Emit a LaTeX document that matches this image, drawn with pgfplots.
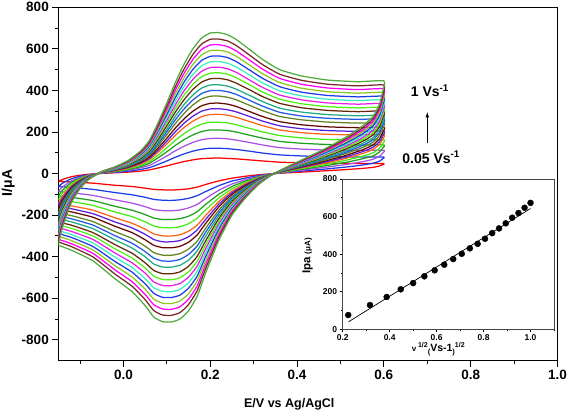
\documentclass[border=0pt]{standalone}
\usepackage{pgfplots}
\pgfplotsset{compat=1.18}
\usepackage{pgfplotstable}
\usepackage{fontspec}
\setmainfont{Liberation Sans}

\definecolor{k1}{RGB}{255,0,0}
\definecolor{k2}{RGB}{30,60,230}
\definecolor{k3}{RGB}{170,80,230}
\definecolor{k4}{RGB}{30,160,30}
\definecolor{k5}{RGB}{70,235,20}
\definecolor{k6}{RGB}{255,100,20}
\definecolor{k7}{RGB}{90,30,220}
\definecolor{k8}{RGB}{100,10,0}
\definecolor{k9}{RGB}{100,130,30}
\definecolor{k10}{RGB}{30,90,230}
\definecolor{k11}{RGB}{30,170,130}
\definecolor{k12}{RGB}{100,40,10}
\definecolor{k13}{RGB}{80,240,20}
\definecolor{k14}{RGB}{230,30,230}
\definecolor{k15}{RGB}{60,240,190}
\definecolor{k16}{RGB}{30,60,230}
\definecolor{k17}{RGB}{140,200,30}
\definecolor{k18}{RGB}{255,0,255}
\definecolor{k19}{RGB}{120,40,40}
\definecolor{k20}{RGB}{80,170,60}

\pgfplotstableread{
E c1 c2 c3 c4 c5 c6 c7 c8 c9 c10 c11 c12 c13 c14 c15 c16 c17 c18 c19 c20
-0.15 -38 -62 -86 -107 -126 -145 -159 -173 -190 -204 -217 -233 -247 -260 -274 -288 -302 -316 -329 -345
-0.14 -28 -46 -64 -79 -93 -107 -117 -128 -140 -150 -161 -172 -182 -193 -203 -213 -223 -233 -244 -255
-0.12 -15 -25 -35 -43 -51 -59 -64 -70 -77 -83 -88 -95 -100 -106 -111 -117 -123 -128 -134 -140
-0.10 -8 -13 -18 -22 -26 -30 -33 -36 -40 -42 -45 -49 -51 -54 -57 -60 -63 -66 -69 -72
-0.08 -3 -5 -7 -9 -10 -12 -13 -14 -15 -17 -18 -19 -20 -21 -22 -23 -25 -26 -27 -28
-0.05 1 2 3 3 4 4 5 5 6 6 6 7 7 8 8 8 9 9 10 10
-0.02 4 6 8 10 12 13 15 16 18 19 20 22 23 24 25 27 28 29 31 32
0.01 7 11 16 19 23 26 29 31 34 37 39 42 44 47 49 52 54 57 59 62
0.04 12 20 28 34 40 46 51 55 61 65 69 74 79 83 87 92 96 101 105 110
0.06 18 29 40 50 58 67 74 80 88 94 101 108 114 121 127 134 140 146 153 160
0.08 27 44 61 76 89 103 113 123 135 145 154 165 175 185 195 205 214 224 234 245
0.10 37 61 85 105 124 143 156 170 187 201 214 230 243 257 270 284 298 311 325 340
0.12 48 79 110 136 161 185 202 220 242 260 277 297 315 332 350 367 385 403 420 440
0.14 58 95 132 164 193 222 243 264 290 312 333 356 378 399 420 441 462 483 504 528
0.16 66 108 150 186 219 252 276 300 330 354 378 405 429 453 477 501 525 549 573 600
0.18 72 117 163 202 238 274 300 326 359 385 411 440 466 492 518 544 571 597 623 652
0.20 74 122 169 210 247 284 311 338 372 399 426 456 483 510 537 564 592 619 646 676
0.22 75 122 170 210 247 285 312 339 373 400 427 458 485 512 539 566 593 620 647 678
0.24 73 120 167 207 244 281 307 334 367 394 421 451 478 504 531 558 585 611 638 668
0.26 71 116 161 200 235 271 297 323 355 381 406 435 461 487 513 539 564 590 616 645
0.29 66 108 150 185 218 251 275 299 329 353 377 404 428 451 475 499 523 547 571 598
0.32 61 99 138 171 201 231 253 275 303 325 347 371 393 415 437 459 481 503 525 550
0.36 55 90 125 155 183 210 230 250 275 295 315 338 358 378 398 418 438 458 478 500
0.41 52 85 118 146 172 197 216 235 259 277 296 317 336 355 374 392 411 430 449 470
0.47 50 81 113 140 164 189 207 225 248 266 284 304 322 340 358 376 394 412 430 450
0.54 49 80 111 137 161 186 203 221 243 261 278 298 316 334 351 369 387 404 422 442
0.60 49 80 112 138 163 187 205 223 245 263 281 301 319 337 355 372 390 408 426 446
0.597 43 71 98 122 143 165 180 196 216 231 247 265 280 296 312 327 343 359 374 392
0.59 37 60 84 104 122 141 154 168 184 198 211 226 240 253 266 280 293 307 320 335
0.575 30 50 69 85 100 116 127 138 151 162 173 186 197 208 219 230 241 252 263 275
0.55 25 41 57 71 83 96 105 114 125 135 144 154 163 172 181 190 200 209 218 228
0.51 19 31 43 53 63 72 79 86 95 101 108 116 123 130 137 144 151 157 164 172
0.46 13 21 29 36 42 48 53 58 63 68 72 78 82 87 91 96 101 105 110 115
0.41 7 12 16 20 24 27 30 33 36 38 41 44 46 49 52 54 57 59 62 65
0.37 3 5 6 8 9 11 12 13 14 15 16 17 18 19 20 21 22 23 24 25
0.34 -1 -1 -2 -2 -3 -3 -4 -4 -4 -5 -5 -5 -6 -6 -6 -7 -7 -7 -8 -8
0.31 -6 -10 -14 -17 -20 -23 -25 -28 -30 -32 -35 -37 -39 -42 -44 -46 -48 -50 -53 -55
0.28 -13 -22 -30 -37 -44 -50 -55 -60 -66 -71 -76 -81 -86 -91 -95 -100 -105 -110 -115 -120
0.25 -22 -36 -50 -62 -73 -84 -92 -100 -110 -118 -126 -135 -143 -151 -159 -167 -175 -183 -191 -200
0.22 -35 -58 -80 -99 -117 -134 -147 -160 -176 -189 -202 -216 -229 -242 -254 -267 -280 -293 -306 -320
0.19 -52 -86 -119 -147 -173 -200 -219 -238 -261 -280 -299 -321 -340 -359 -378 -397 -416 -435 -454 -475
0.17 -65 -106 -148 -183 -215 -248 -271 -295 -325 -348 -372 -398 -422 -445 -469 -493 -516 -540 -563 -590
0.15 -73 -119 -165 -205 -241 -277 -304 -330 -363 -389 -416 -446 -472 -498 -525 -551 -578 -604 -630 -660
0.13 -77 -126 -175 -217 -256 -294 -322 -350 -385 -413 -441 -473 -501 -529 -557 -585 -613 -641 -669 -700
0.11 -79 -129 -179 -221 -261 -300 -328 -357 -393 -421 -450 -482 -511 -539 -568 -596 -625 -653 -682 -714
0.09 -78 -128 -178 -221 -260 -299 -328 -356 -392 -420 -449 -481 -509 -538 -566 -595 -623 -651 -680 -712
0.07 -76 -124 -173 -214 -252 -290 -317 -345 -380 -407 -435 -466 -493 -521 -549 -576 -604 -631 -659 -690
0.05 -70 -114 -159 -197 -232 -267 -292 -318 -349 -375 -400 -429 -454 -479 -505 -530 -556 -581 -606 -635
0.02 -62 -102 -142 -176 -207 -239 -261 -284 -312 -335 -358 -383 -406 -429 -452 -474 -497 -520 -542 -568
-0.02 -56 -91 -126 -157 -184 -212 -232 -253 -278 -298 -318 -341 -361 -381 -401 -422 -442 -462 -482 -505
-0.07 -46 -76 -105 -130 -153 -176 -193 -210 -231 -248 -265 -284 -300 -317 -334 -351 -368 -384 -401 -420
-0.12 -40 -66 -92 -114 -134 -155 -169 -184 -202 -217 -232 -248 -263 -278 -293 -307 -322 -337 -351 -368
-0.15 -38 -62 -86 -107 -126 -145 -159 -173 -190 -204 -217 -233 -247 -260 -274 -288 -302 -316 -329 -345
}\cvdata

\pgfplotstableread{
x y
0.2236 76
0.3162 129
0.3873 172
0.4472 213
0.5000 246
0.5477 282
0.5916 314
0.6325 344
0.6708 374
0.7071 402
0.7416 431
0.7746 455
0.8062 482
0.8367 512
0.8660 537
0.8944 564
0.9220 594
0.9487 619
0.9747 647
1.0000 673
}\ipadata

\begin{document}
\begin{tikzpicture}
\useasboundingbox (-58.3pt,-52.3pt) rectangle (510.7pt,360.7pt);
\begin{axis}[
  at={(0pt,0pt)}, anchor=south west,
  scale only axis, width=499.2pt, height=353.4pt,
  xmin=-0.15, xmax=1.0, ymin=-900, ymax=800,
  xtick={0,0.2,0.4,0.6,0.8,1.0},
  minor xtick={-0.1,0.1,0.3,0.5,0.7,0.9},
  ytick={-800,-600,-400,-200,0,200,400,600,800},
  minor ytick={-700,-500,-300,-100,100,300,500,700},
  xtick pos=bottom, ytick pos=left,
  tick align=outside,
  major tick length=6pt, minor tick length=3.5pt,
  every tick/.style={black, line width=1pt},
  axis line style={line width=1.3pt},
  /pgf/number format/assume math mode=true,
  tick label style={font=\fontsize{13.5}{15}\selectfont\bfseries},
  x tick label style={/pgf/number format/fixed, /pgf/number format/fixed zerofill, /pgf/number format/precision=1},
  y tick label style={/pgf/number format/fixed, /pgf/number format/precision=0},
]
\pgfplotsinvokeforeach{1,...,20}{
  \addplot[color=k#1, line width=1.25pt, line join=round, smooth, tension=0.3] table[x=E, y=c#1] {\cvdata};
}
\node[font=\fontsize{14}{16}\selectfont\bfseries] at (axis cs:0.706,397) {1 Vs\textsuperscript{-1}};
\node[font=\fontsize{14}{16}\selectfont\bfseries] at (axis cs:0.709,79) {0.05 Vs\textsuperscript{-1}};
\draw[-latex, line width=0.8pt] (axis cs:0.700,146) -- (axis cs:0.700,295);
\end{axis}

\begin{axis}[
  at={(284.4pt,31.4pt)}, anchor=south west,
  scale only axis, width=211.3pt, height=150.3pt,
  xmin=0.2, xmax=1.1, ymin=0, ymax=800,
  xtick={0.2,0.4,0.6,0.8,1.0},
  minor xtick={0.3,0.5,0.7,0.9,1.1},
  ytick={0,200,400,600,800},
  minor ytick={100,300,500,700},
  xtick pos=bottom, ytick pos=left,
  tick align=outside,
  major tick length=3pt, minor tick length=2pt,
  every tick/.style={black, line width=0.7pt},
  axis background/.style={fill=white},
  axis line style={draw=gray!55!black, line width=0.9pt},
  /pgf/number format/assume math mode=true,
  tick label style={font=\fontsize{8.5}{10}\selectfont\bfseries},
  x tick label style={/pgf/number format/fixed, /pgf/number format/fixed zerofill, /pgf/number format/precision=1, yshift=1.5pt},
  y tick label style={/pgf/number format/fixed, /pgf/number format/precision=0, xshift=1pt},
]
\addplot[black, line width=0.7pt] coordinates {(0.225,40) (1.0,643)};
\addplot[only marks, mark=*, mark size=3pt, black] table[x=x, y=y] {\ipadata};
\end{axis}

\node[rotate=90, font=\fontsize{14}{16}\selectfont\bfseries] at (-50pt,177.7pt) {I/μA};
\node[font=\fontsize{12.5}{15}\selectfont\bfseries] at (231pt,-43.5pt) {E/V vs Ag/AgCl};
\node[rotate=90, font=\bfseries] at (249.2pt,104.7pt) {{\fontsize{11.5}{13}\selectfont Ipa} {\fontsize{8}{10}\selectfont (μA)}};
\node[font=\bfseries] at (380pt,11.5pt) {{\fontsize{8}{9}\selectfont ν}\,\raisebox{0.7ex}{\fontsize{7}{8}\selectfont 1/2}\raisebox{-0.5ex}{\fontsize{7.5}{9}\selectfont (}{\fontsize{10.5}{12}\selectfont Vs-1}\raisebox{-0.5ex}{\fontsize{7.5}{9}\selectfont )}\raisebox{0.7ex}{\fontsize{7}{8}\selectfont 1/2}};
\end{tikzpicture}
\end{document}
